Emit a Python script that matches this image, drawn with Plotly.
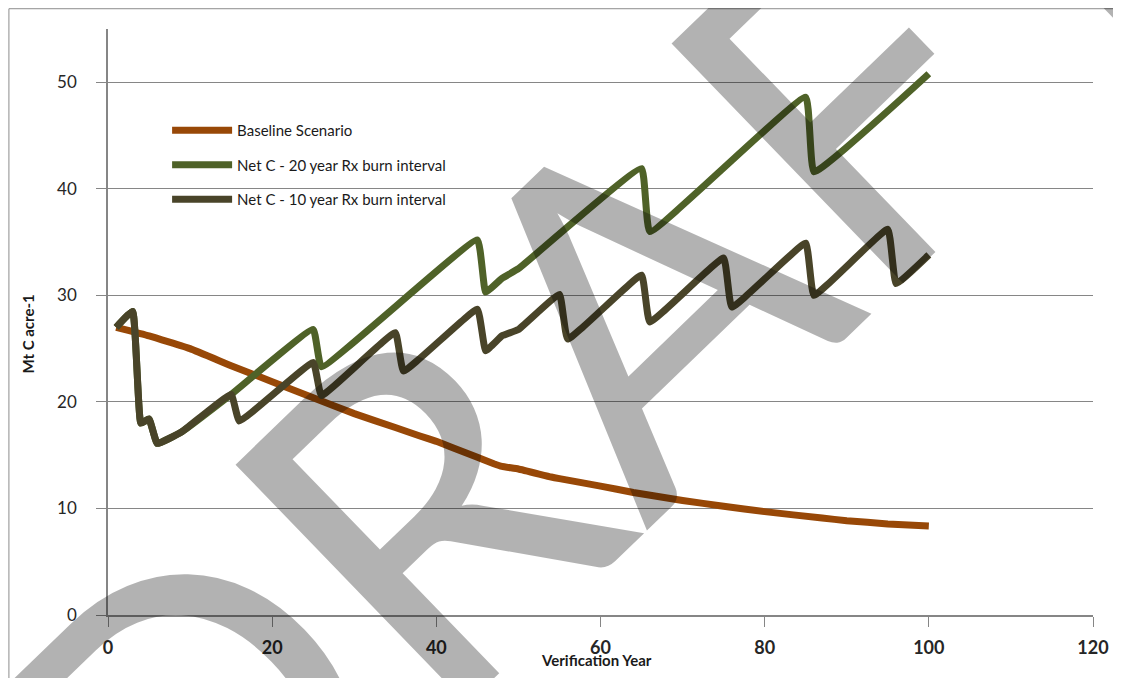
import plotly.graph_objects as go

# ── Data ─────────────────────────────────────────────────────────────────────
base_x = [1, 5, 10, 15, 20, 25, 30, 35, 38, 40, 42, 45, 47, 48, 50, 54, 55, 60,
          64, 70, 75, 80, 87, 90, 95, 100]
base_y = [27.0, 26.2, 25.0, 23.4, 21.9, 20.4, 18.9, 17.6, 16.8, 16.3, 15.7, 14.8,
          14.2, 13.95, 13.7, 12.95, 12.8, 12.1, 11.5, 10.75, 10.2, 9.7, 9.1,
          8.85, 8.55, 8.35]

net20_x = [1, 3, 4, 5, 6, 9, 15, 25, 26, 45, 46, 48, 50, 65, 66, 85, 86, 100]
net20_y = [27.0, 28.5, 18.0, 18.4, 16.1, 17.2, 20.7, 26.8, 23.3, 35.2, 30.3,
           31.6, 32.5, 41.9, 36.0, 48.6, 41.6, 50.8]

net10_x = [1, 3, 4, 5, 6, 9, 15, 16, 25, 26, 35, 36, 45, 46, 48, 50, 55, 56,
           65, 66, 75, 76, 85, 86, 95, 96, 100]
net10_y = [27.0, 28.5, 18.0, 18.4, 16.1, 17.2, 20.7, 18.2, 23.7, 20.6, 26.5,
           22.9, 28.7, 24.8, 26.2, 26.8, 30.1, 25.9, 31.9, 27.5, 33.5, 28.9,
           34.9, 30.0, 36.2, 31.1, 33.8]

x_ticks = [0, 20, 40, 60, 80, 100, 120]
y_ticks = [0, 10, 20, 30, 40, 50]

FONT = "Lato"
C_BASE = "#984807"
C_NET20 = "#4F6228"
C_NET10 = "#494429"
C_GRID = "#868686"

fig = go.Figure()

for name, xs, ys, col in [
    ("Baseline Scenario", base_x, base_y, C_BASE),
    ("Net C - 20 year Rx burn interval", net20_x, net20_y, C_NET20),
    ("Net C - 10 year Rx burn interval", net10_x, net10_y, C_NET10),
]:
    fig.add_trace(go.Scatter(
        x=xs, y=ys, mode="lines", name=name, legendgroup=name,
        line=dict(color=col, width=7, shape="spline", smoothing=0.3),
    ))

# page body has an 8px margin, so the figure is sized to fit the window
fig.update_layout(
    width=1113, height=670,
    paper_bgcolor="white", plot_bgcolor="white",
    margin=dict(l=100, r=21, t=21, b=63),
    font=dict(family=FONT, color="#262626"),
    showlegend=True,
    legend=dict(
        x=0.06, y=0.855, xanchor="left", yanchor="top",
        bgcolor="rgba(0,0,0,0)",
        font=dict(family=FONT, size=15, color="#1a1a1a"),
        itemwidth=60, tracegroupgap=12,
    ),
)

fig.update_xaxes(
    range=[0, 120], tickvals=x_ticks, showgrid=False, zeroline=False,
    showline=True, linecolor=C_GRID, linewidth=1.5,
    ticks="outside", ticklen=10, tickcolor=C_GRID,
    tickfont=dict(family=FONT, size=18, color="#262626", weight="bold"),
    ticklabelstandoff=6,
)
fig.update_yaxes(
    range=[0, 55], tickvals=y_ticks, showgrid=True, gridcolor=C_GRID,
    gridwidth=1, zeroline=False,
    showline=True, linecolor=C_GRID, linewidth=1.5,
    ticks="outside", ticklen=10, tickcolor=C_GRID,
    tickfont=dict(family=FONT, size=17, color="#262626"),
    ticklabelstandoff=16,
)

# axis titles (Excel places them overlapping the tick labels)
fig.add_annotation(
    text="<b>Verification Year</b>", x=59.5, xref="x", y=-0.076, yref="paper",
    xanchor="center", yanchor="middle", showarrow=False,
    font=dict(family=FONT, size=15, color="#1a1a1a"),
)
fig.add_annotation(
    text="<b>Mt C acre-1</b>", x=-0.081, xref="paper", y=0.479, yref="paper",
    xanchor="center", yanchor="middle", textangle=-90, showarrow=False,
    font=dict(family=FONT, size=15, color="#1a1a1a"),
)

# chart frame
fig.add_shape(type="rect", xref="paper", yref="paper",
              x0=-0.1006, x1=1.2, y0=-0.3, y1=1.0346,
              line=dict(color="#8c8c8c", width=1), layer="below")

# DRAFT watermark
fig.add_annotation(
    text="DRAFT", x=0.495, y=0.486, xref="paper", yref="paper",
    xanchor="center", yanchor="middle",
    textangle=-44, showarrow=False,
    font=dict(family=FONT, size=465, color="rgba(0,0,0,0.3)"),
)

fig.write_html("out.html")
